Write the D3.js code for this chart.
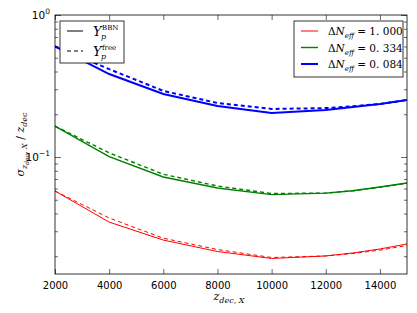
<!DOCTYPE html>
<html>
<head>
<meta charset="utf-8">
<script src="https://cdn.jsdelivr.net/npm/d3@7"></script>
<style>
  body { margin: 0; background: #fff; }
  svg { display: block; }
  .tick text { font-family: "DejaVu Sans", sans-serif; font-size: 10px; fill: #000; }
  .math { font-family: "DejaVu Serif", "Liberation Serif", serif; font-style: italic; }
</style>
</head>
<body>
<div id="chart"></div>
<script>
// data
var zdec = [2000, 4000, 6000, 8000, 10000, 12000, 13000, 14000, 15000];

var redBBN    = [0.0576, 0.0348, 0.0260, 0.0216, 0.0193, 0.0201, 0.0211, 0.0225, 0.0244];
var redFree   = [0.0576, 0.0372, 0.0268, 0.0223, 0.0196, 0.0201, 0.0209, 0.0221, 0.0238];
var greenBBN  = [0.165, 0.1005, 0.0723, 0.0605, 0.0543, 0.0557, 0.0579, 0.0615, 0.0656];
var greenFree = [0.165, 0.107, 0.0756, 0.0625, 0.0553, 0.0557, 0.0579, 0.0613, 0.0654];
var blueBBN   = [0.60, 0.384, 0.278, 0.229, 0.204, 0.214, 0.225, 0.236, 0.252];
var blueFree  = [0.60, 0.416, 0.292, 0.240, 0.218, 0.221, 0.228, 0.236, 0.252];

var dNeffLabels = ["1.000", "0.334", "0.084"];
var xTicks = [2000, 4000, 6000, 8000, 10000, 12000, 14000];

var W = 417, H = 313;
var m = {left: 55, right: 10, top: 15, bottom: 39};

var svg = d3.select("#chart").append("svg").attr("width", W).attr("height", H);

var x = d3.scaleLinear().domain([2000, 15000]).range([m.left, W - m.right]);
var y = d3.scaleLog().domain([0.015, 1]).range([H - m.bottom, m.top]);

var series = [
    {color: "#ff0000", width: 1,   bbn: redBBN,   free: redFree},
    {color: "#008000", width: 1.4, bbn: greenBBN, free: greenFree},
    {color: "#0000ff", width: 2,   bbn: blueBBN,  free: blueFree}
];

var line = d3.line()
    .x(function (d) { return x(d[0]); })
    .y(function (d) { return y(d[1]); });

var plot = svg.append("g");
plot.append("clipPath").attr("id", "clip")
    .append("rect").attr("x", m.left).attr("y", m.top)
    .attr("width", W - m.left - m.right).attr("height", H - m.top - m.bottom);

var curves = plot.append("g").attr("clip-path", "url(#clip)");
series.forEach(function (s) {
    curves.append("path")
        .attr("d", line(d3.zip(zdec, s.bbn)))
        .attr("fill", "none").attr("stroke", s.color).attr("stroke-width", s.width);
    curves.append("path")
        .attr("d", line(d3.zip(zdec, s.free)))
        .attr("fill", "none").attr("stroke", s.color).attr("stroke-width", s.width)
        .attr("stroke-dasharray", "4,3");
});

// minor ticks for the log axis
var minor = [];
[0.01, 0.1].forEach(function (p) {
    for (var k = 2; k <= 9; k++) {
        var v = k * p;
        if (v >= 0.015 && v < 1) minor.push(v);
    }
});

// axes, ticks pointing inwards like matplotlib classic
var xAxis = d3.axisBottom(x).tickValues(xTicks).tickSizeInner(-5).tickSizeOuter(0).tickPadding(8)
    .tickFormat(d3.format("d"));
var xTop = d3.axisTop(x).tickValues(xTicks).tickSizeInner(-5).tickSizeOuter(0).tickFormat("");
var yAxis = d3.axisLeft(y).tickValues([0.1, 1]).tickSizeInner(-6).tickSizeOuter(0).tickFormat("");
var yMinor = d3.axisLeft(y).tickValues(minor).tickSizeInner(-3).tickSizeOuter(0).tickFormat("");
var yRight = d3.axisRight(y).tickValues([0.1, 1]).tickSizeInner(-6).tickSizeOuter(0).tickFormat("");
var yRightMinor = d3.axisRight(y).tickValues(minor).tickSizeInner(-3).tickSizeOuter(0).tickFormat("");

svg.append("g").attr("transform", "translate(0," + (H - m.bottom) + ")").call(xAxis);
svg.append("g").attr("transform", "translate(0," + m.top + ")").call(xTop);
svg.append("g").attr("transform", "translate(" + m.left + ",0)").call(yAxis);
svg.append("g").attr("transform", "translate(" + m.left + ",0)").call(yMinor);
svg.append("g").attr("transform", "translate(" + (W - m.right) + ",0)").call(yRight);
svg.append("g").attr("transform", "translate(" + (W - m.right) + ",0)").call(yRightMinor);
svg.selectAll(".domain").remove();
svg.selectAll(".tick line").attr("stroke", "#000").attr("stroke-width", 0.6);

// frame
svg.append("rect").attr("x", m.left).attr("y", m.top)
    .attr("width", W - m.left - m.right).attr("height", H - m.top - m.bottom)
    .attr("fill", "none").attr("stroke", "#000").attr("stroke-width", 0.8);

// y tick labels 10^0, 10^-1
[[1, "0"], [0.1, "\u22121"]].forEach(function (t) {
    var tx = svg.append("text").attr("x", m.left - 5).attr("y", y(t[0]) + 4)
        .attr("text-anchor", "end")
        .style("font-family", "DejaVu Sans, sans-serif").style("font-size", "10.5px");
    tx.append("tspan").text("10");
    tx.append("tspan").attr("dy", -5).style("font-size", "7.5px").text(t[1]);
});

// axis labels
var xl = svg.append("text").attr("class", "math").attr("x", (m.left + W - m.right) / 2 - 2)
    .attr("y", 300).attr("text-anchor", "middle").style("font-size", "11px");
xl.append("tspan").text("z");
xl.append("tspan").attr("dy", 3).style("font-size", "8px").text("dec, X");

var yl = svg.append("text").attr("class", "math")
    .attr("transform", "translate(24," + ((m.top + H - m.bottom) / 2) + ") rotate(-90)")
    .attr("text-anchor", "middle").style("font-size", "11px");
yl.append("tspan").text("\u03c3");
yl.append("tspan").attr("dy", 3).style("font-size", "8px").text("z");
yl.append("tspan").attr("dy", 2).style("font-size", "6px").text("dec");
yl.append("tspan").attr("dy", -2).style("font-size", "8px").text(", X");
yl.append("tspan").attr("dy", -3).style("font-style", "normal").text(" / ");
yl.append("tspan").text("z");
yl.append("tspan").attr("dy", 3).style("font-size", "8px").text("dec");

// left legend: line styles
var lg = svg.append("g");
lg.append("rect").attr("x", 60).attr("y", 21).attr("width", 64).attr("height", 42)
    .attr("fill", "#fff").attr("stroke", "#000").attr("stroke-width", 0.8);
[["BBN", null, 31], ["free", "4,3", 51]].forEach(function (e) {
    lg.append("line").attr("x1", 67).attr("x2", 83).attr("y1", e[2]).attr("y2", e[2])
        .attr("stroke", "#000").attr("stroke-width", 1).attr("stroke-dasharray", e[1]);
    lg.append("text").attr("class", "math").attr("x", 93).attr("y", e[2] + 5)
        .style("font-size", "13px").text("Y");
    lg.append("text").attr("class", "math").attr("x", 101).attr("y", e[2] + 8)
        .style("font-size", "8px").text("p");
    lg.append("text").attr("x", 102).attr("y", e[2] - 1)
        .style("font-family", "DejaVu Serif, serif").style("font-size", "7px").text(e[0]);
});

// right legend: colours
var rg = svg.append("g");
rg.append("rect").attr("x", 294).attr("y", 21).attr("width", 109).attr("height", 56)
    .attr("fill", "#fff").attr("stroke", "#000").attr("stroke-width", 0.8);
series.forEach(function (s, i) {
    var ly = 31 + i * 16.5;
    rg.append("line").attr("x1", 301).attr("x2", 318).attr("y1", ly).attr("y2", ly)
        .attr("stroke", s.color).attr("stroke-width", s.width);
    var t = rg.append("text").attr("x", 328).attr("y", ly + 4)
        .style("font-family", "DejaVu Serif, serif").style("font-size", "10.5px");
    t.append("tspan").text("\u0394");
    t.append("tspan").style("font-style", "italic").text("N");
    t.append("tspan").attr("dy", 3).style("font-style", "italic").style("font-size", "7px").text("eff");
    t.append("tspan").attr("dy", -3).text(" = " + dNeffLabels[i].replace(".", ". "));
});
</script>
</body>
</html>
